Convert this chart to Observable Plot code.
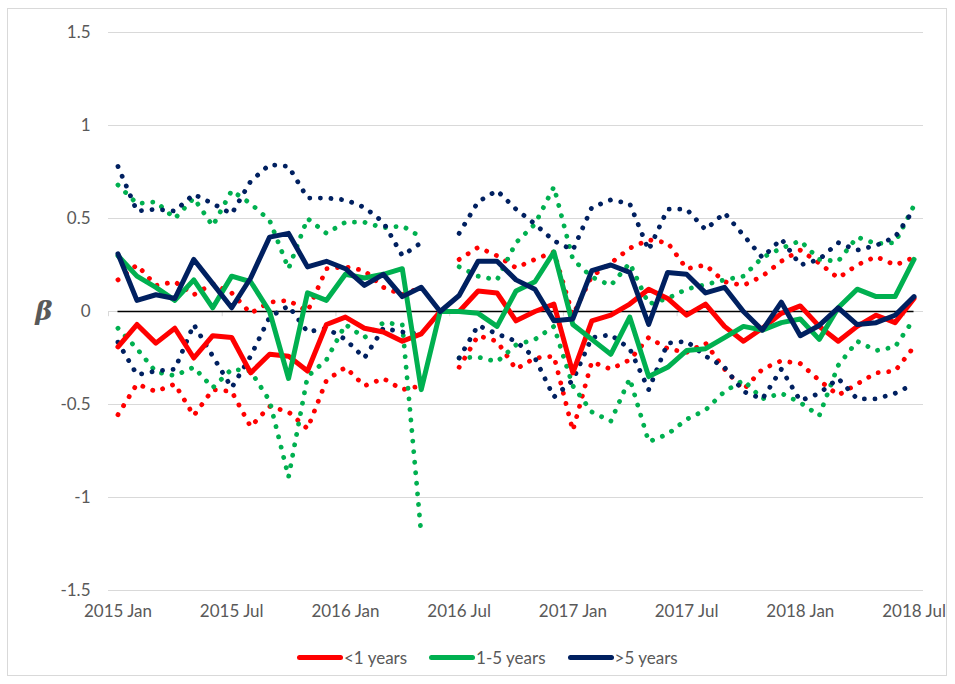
<!DOCTYPE html>
<html>
<head>
<meta charset="utf-8">
<script src="https://cdn.jsdelivr.net/npm/d3@7"></script>
<script src="https://cdn.jsdelivr.net/npm/@observablehq/plot@0.6"></script>
<style>
  body { margin: 0; background: #fff; font-family: Lato, sans-serif; }
  #wrap { position: relative; width: 955px; height: 684px; overflow: hidden; }
  #frame { position: absolute; left: 7px; top: 8px; width: 940px; height: 668px; border: 1px solid #d9d9d9; box-sizing: border-box; }
  #chart { position: absolute; left: 0; top: 0; }
  #legend { position: absolute; top: 646px; left: 297px; display: flex; align-items: center; font-family: Lato, sans-serif; font-size: 17px; color: #595959; height: 22px; }
  .item { display: flex; align-items: center; margin-right: 22px; }
  .sw { width: 46px; height: 5px; border-radius: 3px; margin-right: 1px; }
</style>
</head>
<body>
<div id="wrap">
  <div id="frame"></div>
  <div id="chart"></div>
  <div id="legend"></div>
</div>
<script>
// Monthly estimates (beta) and confidence bounds, 2015 Jan .. 2018 Jul (43 months); null = no bound (2016 Jun)
const seriesNames = ["<1 years", "1-5 years", ">5 years"];
const seriesColors = ["#FF0000", "#00B050", "#002060"];

const redEst = [-0.19,-0.07,-0.17,-0.09,-0.25,-0.13,-0.14,-0.33,-0.23,-0.24,-0.32,-0.07,-0.03,-0.09,-0.11,-0.16,-0.12,0.00,0.00,0.11,0.10,-0.05,0.00,0.04,-0.33,-0.05,-0.02,0.04,0.12,0.07,-0.02,0.04,-0.08,-0.16,-0.09,-0.01,0.03,-0.08,-0.16,-0.08,-0.02,-0.06,0.07];
const redUp = [0.17,0.25,0.14,0.16,0.09,0.15,0.10,-0.01,0.05,0.06,0.00,0.23,0.24,0.22,0.13,0.09,0.13,null,0.28,0.345,0.30,0.235,0.28,0.32,-0.02,0.19,0.26,0.34,0.385,0.37,0.23,0.25,0.16,0.14,0.19,0.27,0.33,0.26,0.18,0.25,0.295,0.25,0.29];
const redLo = [-0.555,-0.39,-0.43,-0.39,-0.56,-0.42,-0.43,-0.62,-0.51,-0.54,-0.63,-0.37,-0.30,-0.40,-0.36,-0.42,-0.40,null,-0.30,-0.13,-0.16,-0.31,-0.25,-0.24,-0.64,-0.27,-0.31,-0.26,-0.14,-0.20,-0.22,-0.17,-0.31,-0.42,-0.31,-0.265,-0.28,-0.37,-0.45,-0.39,-0.33,-0.32,-0.19];

const greenEst = [0.30,0.19,0.13,0.06,0.17,0.02,0.19,0.16,0.00,-0.36,0.10,0.06,0.20,0.18,0.20,0.23,-0.42,0.00,0.00,-0.01,-0.08,0.11,0.16,0.32,-0.07,-0.15,-0.23,-0.03,-0.35,-0.30,-0.21,-0.20,-0.14,-0.08,-0.10,-0.06,-0.04,-0.15,0.02,0.12,0.08,0.08,0.28];
const greenUp = [0.68,0.58,0.59,0.50,0.61,0.46,0.65,0.58,0.49,0.23,0.50,0.42,0.48,0.48,0.45,0.46,0.40,null,0.24,0.19,0.17,0.37,0.47,0.67,0.28,0.185,0.14,0.26,0.04,0.07,0.12,0.145,0.17,0.19,0.29,0.34,0.38,0.28,0.27,0.40,0.365,0.37,0.57];
const greenLo = [-0.09,-0.20,-0.325,-0.345,-0.30,-0.41,-0.31,-0.32,-0.48,-0.89,-0.35,-0.26,-0.07,-0.14,-0.06,-0.07,-1.20,null,-0.25,-0.245,-0.27,-0.18,-0.15,-0.08,-0.40,-0.54,-0.59,-0.36,-0.70,-0.66,-0.58,-0.53,-0.43,-0.37,-0.47,-0.44,-0.49,-0.56,-0.29,-0.16,-0.21,-0.19,-0.04];

const navyEst = [0.31,0.06,0.09,0.07,0.28,0.15,0.02,0.18,0.40,0.42,0.24,0.27,0.23,0.14,0.20,0.08,0.13,0.00,0.086,0.27,0.27,0.17,0.12,-0.05,-0.04,0.22,0.25,0.21,-0.07,0.21,0.20,0.10,0.13,0.00,-0.10,0.05,-0.13,-0.075,0.02,-0.07,-0.06,-0.02,0.08];
const navyUp = [0.78,0.54,0.55,0.54,0.63,0.58,0.525,0.70,0.79,0.78,0.61,0.61,0.60,0.56,0.48,0.30,0.37,null,0.42,0.59,0.65,0.55,0.47,0.38,0.33,0.56,0.60,0.58,0.33,0.55,0.55,0.44,0.53,0.41,0.29,0.39,0.25,0.28,0.37,0.33,0.355,0.40,0.55];
const navyLo = [-0.165,-0.34,-0.32,-0.31,-0.07,-0.24,-0.41,-0.24,-0.03,0.03,-0.11,-0.09,-0.15,-0.25,-0.09,-0.11,-0.12,null,-0.25,-0.075,-0.12,-0.16,-0.25,-0.46,-0.37,-0.14,-0.125,-0.20,-0.42,-0.17,-0.16,-0.24,-0.30,-0.43,-0.47,-0.31,-0.48,-0.44,-0.36,-0.47,-0.47,-0.44,-0.39];

const xTickLabels = ["2015 Jan","2015 Jul","2016 Jan","2016 Jul","2017 Jan","2017 Jul","2018 Jan","2018 Jul"];
const xTickMonths = [0, 6, 12, 18, 24, 30, 36, 42];
const yTicks = [-1.5, -1, -0.5, 0, 0.5, 1, 1.5];

const ests = [redEst, greenEst, navyEst];
const ups = [redUp, greenUp, navyUp];
const los = [redLo, greenLo, navyLo];

const solidRows = [];
const dotRows = [];
seriesNames.forEach((name, s) => {
  ests[s].forEach((v, i) => solidRows.push({ i, v, s, key: name }));
  ups[s].forEach((v, i) => dotRows.push({ i, v, s, key: name + " up" }));
  los[s].forEach((v, i) => dotRows.push({ i, v, s, key: name + " lo" }));
});

const n = redEst.length;
const colorOf = d => seriesColors[d.s];

const chart = Plot.plot({
  width: 955,
  height: 640,
  marginLeft: 108,
  marginRight: 32,
  marginTop: 32,
  marginBottom: 50,
  x: { domain: [-0.5, n - 0.5] },
  y: { domain: [-1.5, 1.5] },
  style: { fontFamily: "Lato, sans-serif", fontSize: "17px", color: "#595959", background: "transparent", overflow: "visible" },
  marks: [
    Plot.ruleY(yTicks, { stroke: "#d9d9d9", strokeWidth: 1 }),
    Plot.ruleX(xTickMonths.map(i => i - 0.5), { y1: 0, y2: -0.028, stroke: "#d9d9d9" }),
    Plot.ruleY([0], { x1: 0, x2: n - 1, stroke: "black", strokeWidth: 1.6 }),
    Plot.line(dotRows, { x: "i", y: "v", z: "key", stroke: colorOf, strokeWidth: 4.8, strokeDasharray: "0.1 10.5", strokeLinecap: "round" }),
    ...seriesNames.map((name, s) =>
      Plot.line(solidRows.filter(d => d.s === s), { x: "i", y: "v", stroke: seriesColors[s], strokeWidth: 5, strokeLinejoin: "round", strokeLinecap: "round" })
    ),
    Plot.axisY({ ticks: yTicks, tickSize: 0, tickPadding: 18, tickFormat: d => String(d), label: null }),
    Plot.axisX({ ticks: xTickMonths, tickSize: 0, tickPadding: 14, tickFormat: i => xTickLabels[xTickMonths.indexOf(i)], label: null })
  ]
});

document.getElementById("chart").appendChild(chart);

// y-axis title beta
const y0 = chart.scale("y").apply(0);
d3.select(chart).append("text")
  .attr("x", 44).attr("y", y0)
  .attr("dy", "0.35em")
  .attr("text-anchor", "middle")
  .attr("font-family", "'DejaVu Serif', serif")
  .attr("font-style", "italic")
  .attr("font-weight", "bold")
  .attr("font-size", 26)
  .attr("fill", "#595959")
  .text("β");

// legend
const legend = d3.select("#legend");
seriesNames.forEach((name, s) => {
  const it = legend.append("div").attr("class", "item");
  it.append("div").attr("class", "sw").style("background", seriesColors[s]);
  it.append("span").text(name);
});
</script>
</body>
</html>
